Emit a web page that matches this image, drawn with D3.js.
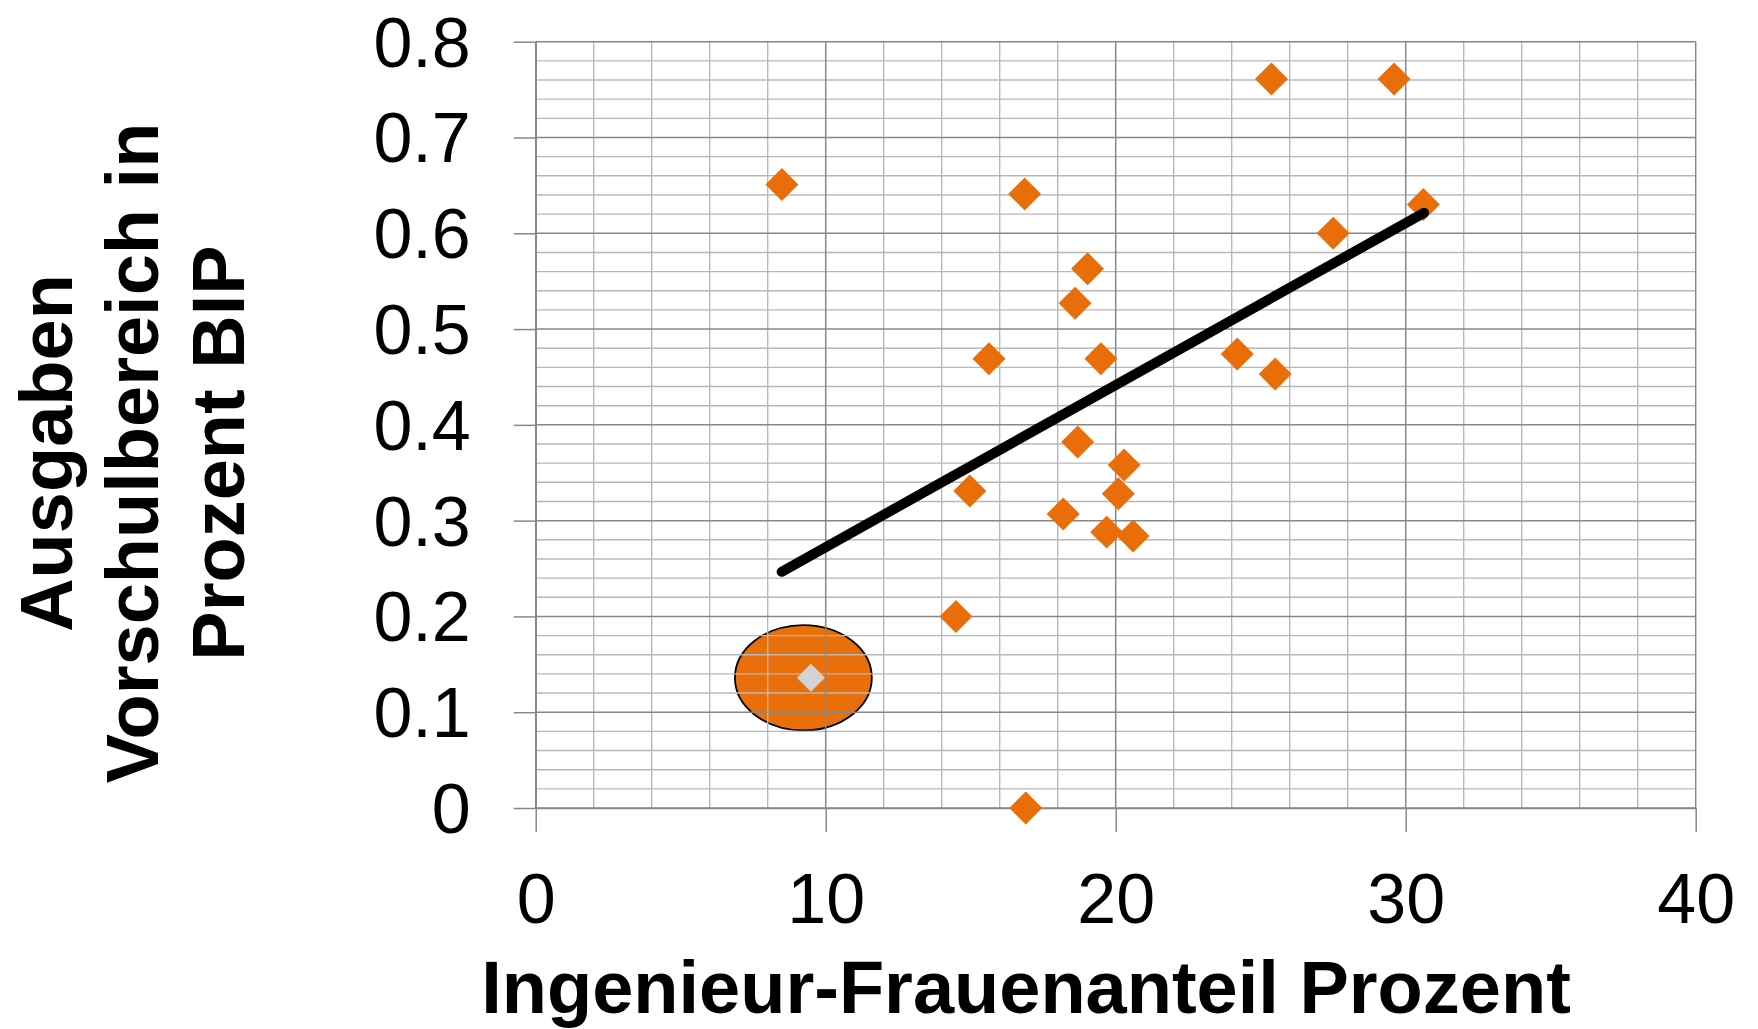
<!DOCTYPE html>
<html>
<head>
<meta charset="utf-8">
<script src="https://cdn.jsdelivr.net/npm/d3@7"></script>
<style>
  body { margin: 0; background: #fff; }
  text { font-family: "Liberation Sans", Arial, sans-serif; }
</style>
</head>
<body>
<div id="chart"></div>
<script>
// share of women among engineers (%) and preschool spending (% of GDP)
const womenShare = [8.49, 16.86, 25.37, 29.6, 30.61, 27.5, 19.03, 18.6, 15.63, 19.49,
  24.19, 25.5, 18.69, 20.29, 14.97, 20.09, 18.19, 19.69, 20.6, 14.49, 16.9];
const preschoolSpend = [0.651, 0.641, 0.761, 0.761, 0.630, 0.600, 0.563, 0.527, 0.469, 0.469,
  0.474, 0.453, 0.382, 0.358, 0.331, 0.328, 0.307, 0.288, 0.284, 0.200, 0];

// highlighted country (grey diamond inside the orange ellipse)
const highlightPoint = [9.49, 0.136];
const highlightEllipse = [9.23, 0.136, 2.36, 0.055]; // cx, cy, rx, ry in data units

// linear trend line endpoints
const trendLine = [[8.48, 0.2466], [30.63, 0.6214]];

const xTicks = [0, 10, 20, 30, 40];
const yTicks = [0, 0.1, 0.2, 0.3, 0.4, 0.5, 0.6, 0.7, 0.8];
const yTickLabels = ["0", "0.1", "0.2", "0.3", "0.4", "0.5", "0.6", "0.7", "0.8"];

const W = 1758, H = 1029;
const plot = { left: 535.7, right: 1695.7, top: 41.7, bottom: 808 };

const svg = d3.select("#chart").append("svg")
  .attr("width", W)
  .attr("height", H);

const x = d3.scaleLinear().domain([0, 40]).range([plot.left, plot.right]);
const y = d3.scaleLinear().domain([0, 0.8]).range([plot.bottom, plot.top]);

// highlight ellipse (under the grid)
svg.append("ellipse")
  .attr("cx", x(highlightEllipse[0]))
  .attr("cy", y(highlightEllipse[1]))
  .attr("rx", x(highlightEllipse[2]) - x(0))
  .attr("ry", y(0) - y(highlightEllipse[3]))
  .attr("fill", "#e96f0b")
  .attr("stroke", "#000")
  .attr("stroke-width", 1.8);

// minor grid
const minorX = d3.range(0, 41, 2).filter(d => d % 10 !== 0);
const minorY = d3.range(0, 41).filter(i => i % 5 !== 0).map(i => i * 0.02);

const grid = svg.append("g");
grid.selectAll(".mx").data(minorX).enter().append("line")
  .attr("x1", d => x(d)).attr("x2", d => x(d))
  .attr("y1", plot.top).attr("y2", plot.bottom)
  .attr("stroke", "#b8b8b8").attr("stroke-width", 1.4);
grid.selectAll(".my").data(minorY).enter().append("line")
  .attr("x1", plot.left).attr("x2", plot.right)
  .attr("y1", d => y(d)).attr("y2", d => y(d))
  .attr("stroke", "#b8b8b8").attr("stroke-width", 1.4);

// major grid
grid.selectAll(".Mx").data(xTicks).enter().append("line")
  .attr("x1", d => x(d)).attr("x2", d => x(d))
  .attr("y1", plot.top).attr("y2", plot.bottom)
  .attr("stroke", "#878787").attr("stroke-width", 1.5);
grid.selectAll(".My").data(yTicks).enter().append("line")
  .attr("x1", plot.left).attr("x2", plot.right)
  .attr("y1", d => y(d)).attr("y2", d => y(d))
  .attr("stroke", "#878787").attr("stroke-width", 1.5);

// axes
const xAxis = d3.axisBottom(x).tickValues(xTicks).tickSize(24).tickSizeOuter(0).tickFormat(d => d);
const yAxis = d3.axisLeft(y).tickValues(yTicks).tickSize(22).tickSizeOuter(0)
  .tickFormat((d, i) => yTickLabels[i]);

const gx = svg.append("g")
  .attr("transform", "translate(0," + plot.bottom + ")")
  .call(xAxis);
const gy = svg.append("g")
  .attr("transform", "translate(" + plot.left + ",0)")
  .call(yAxis);

[gx, gy].forEach(g => {
  g.select(".domain").attr("stroke", "#878787").attr("stroke-width", 1.5);
  g.selectAll(".tick line").attr("stroke", "#878787").attr("stroke-width", 1.5);
  g.selectAll(".tick text")
    .attr("fill", "#000")
    .style("font-family", '"Liberation Sans", Arial, sans-serif')
    .style("font-size", "70px");
});
gx.selectAll(".tick text").attr("y", 0).attr("dy", "115px");
gy.selectAll(".tick text").attr("x", -65).attr("dy", "0.35em");

// data points
const diamond = d3.symbol().type(d3.symbolSquare).size(544);
svg.append("g").selectAll("path")
  .data(womenShare.map((d, i) => [d, preschoolSpend[i]]))
  .enter().append("path")
  .attr("d", diamond)
  .attr("transform", d => "translate(" + x(d[0]) + "," + y(d[1]) + ") rotate(45)")
  .attr("fill", "#e96d08");

svg.append("path")
  .attr("d", d3.symbol().type(d3.symbolSquare).size(392))
  .attr("transform", "translate(" + x(highlightPoint[0]) + "," + y(highlightPoint[1]) + ") rotate(45)")
  .attr("fill", "#d3d3d3");

// trend line
svg.append("path")
  .datum(trendLine)
  .attr("d", d3.line().x(d => x(d[0])).y(d => y(d[1])))
  .attr("fill", "none")
  .attr("stroke", "#000")
  .attr("stroke-width", 10)
  .attr("stroke-linecap", "round");

// axis titles
svg.append("text")
  .attr("x", 1026).attr("y", 1013)
  .attr("text-anchor", "middle")
  .style("font-size", "74px").style("font-weight", "bold")
  .text("Ingenieur-Frauenanteil Prozent");

const yTitle = ["Ausgaben", "Vorschulbereich in", "Prozent BIP"];
svg.append("g")
  .attr("transform", "translate(72,453) rotate(-90)")
  .selectAll("text").data(yTitle).enter().append("text")
  .attr("x", 0).attr("y", (d, i) => i * 86)
  .attr("text-anchor", "middle")
  .style("font-size", "74px").style("font-weight", "bold")
  .text(d => d);
</script>
</body>
</html>
